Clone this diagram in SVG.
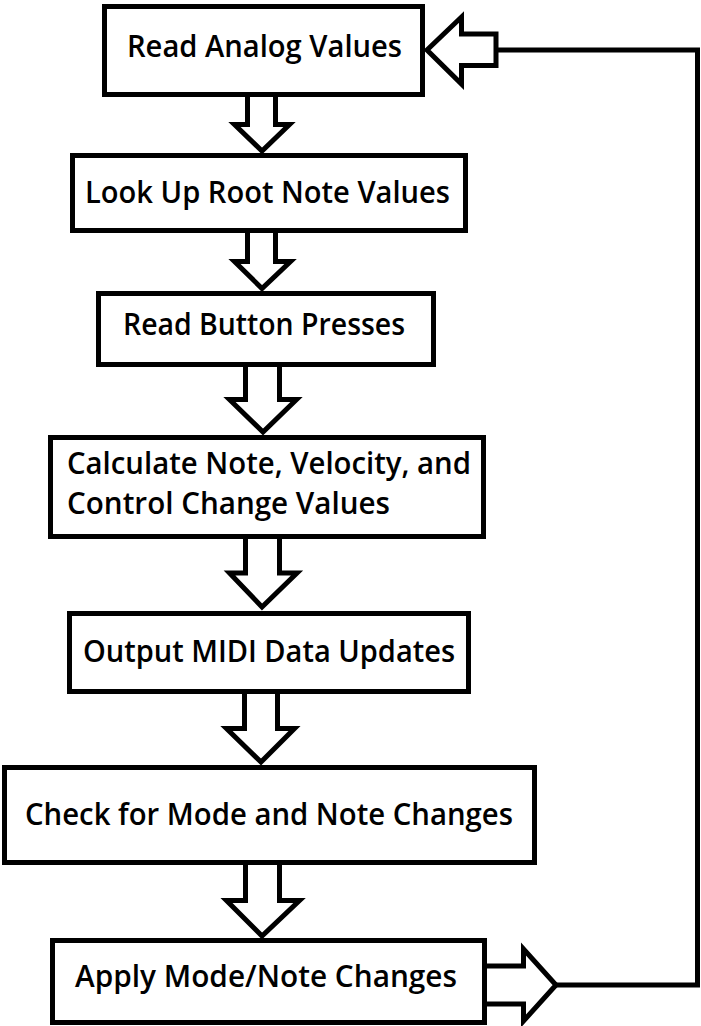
<svg xmlns="http://www.w3.org/2000/svg" width="701" height="1026" viewBox="0 0 701 1026">
<style>
.box{fill:#fff;stroke:#000;stroke-width:5}
.arr{fill:#fff;stroke:#000;stroke-width:5;stroke-linejoin:miter;stroke-miterlimit:10}
.ln{fill:none;stroke:#000;stroke-width:5}
.t{font-family:"Open Sans","Noto Sans","DejaVu Sans",sans-serif;font-size:30px;font-weight:600;fill:#000}
</style>
<rect width="701" height="1026" fill="#fff"/>
<g id="connectors">
<path class="arr" d="M247.5 94.5 V124.5 H234.5 L262 151 L289.5 124.5 H275.5 V94.5"/>
<path class="arr" d="M247.5 230.5 V261.5 H234.5 L262 288.5 L290.5 261.5 H275.5 V230.5"/>
<path class="arr" d="M245.5 364.5 V399.5 H229.5 L263 432 L296.5 399.5 H279.5 V364.5"/>
<path class="arr" d="M245.5 536.5 V573 H229.5 L262 607 L297 573 H279.5 V536.5"/>
<path class="arr" d="M244.5 691.5 V728.5 H226.5 L261 762 L294.5 728.5 H277.5 V691.5"/>
<path class="arr" d="M245.5 862.5 V900.5 H226.5 L262 936 L299.5 900.5 H279.5 V862.5"/>
<path class="arr" d="M484.5 966 H523.5 V949 L556 985 L523.5 1021 V1004 H484.5"/>
<path class="ln" d="M556 985 H697.5 V50 H496"/>
<path class="arr" d="M496 34 H461.5 V17 L427 50 L461.5 84 V65.5 H496 Z"/>
</g>
<g id="node1">
<rect class="box" x="104.5" y="6.5" width="318" height="88"/>
<text class="t" x="127" y="57" textLength="275" lengthAdjust="spacingAndGlyphs">Read Analog Values</text>
</g>
<g id="node2">
<rect class="box" x="72.5" y="155.5" width="393" height="75"/>
<text class="t" x="85" y="203" textLength="365" lengthAdjust="spacingAndGlyphs">Look Up Root Note Values</text>
</g>
<g id="node3">
<rect class="box" x="98.5" y="293.5" width="335" height="71"/>
<text class="t" x="123" y="335" textLength="282" lengthAdjust="spacingAndGlyphs">Read Button Presses</text>
</g>
<g id="node4">
<rect class="box" x="50.5" y="437.5" width="433" height="99"/>
<text class="t" x="67" y="474" textLength="404" lengthAdjust="spacingAndGlyphs">Calculate Note, Velocity, and</text>
<text class="t" x="67" y="514" textLength="323" lengthAdjust="spacingAndGlyphs">Control Change Values</text>
</g>
<g id="node5">
<rect class="box" x="69.5" y="613.5" width="399" height="78"/>
<text class="t" x="83" y="662" textLength="372" lengthAdjust="spacingAndGlyphs">Output MIDI Data Updates</text>
</g>
<g id="node6">
<rect class="box" x="4.5" y="767.5" width="530" height="95"/>
<text class="t" x="25" y="825" textLength="488" lengthAdjust="spacingAndGlyphs">Check for Mode and Note Changes</text>
</g>
<g id="node7">
<rect class="box" x="52.5" y="940.5" width="432" height="82"/>
<text class="t" x="75" y="987" textLength="382" lengthAdjust="spacingAndGlyphs">Apply Mode/Note Changes</text>
</g>
</svg>
